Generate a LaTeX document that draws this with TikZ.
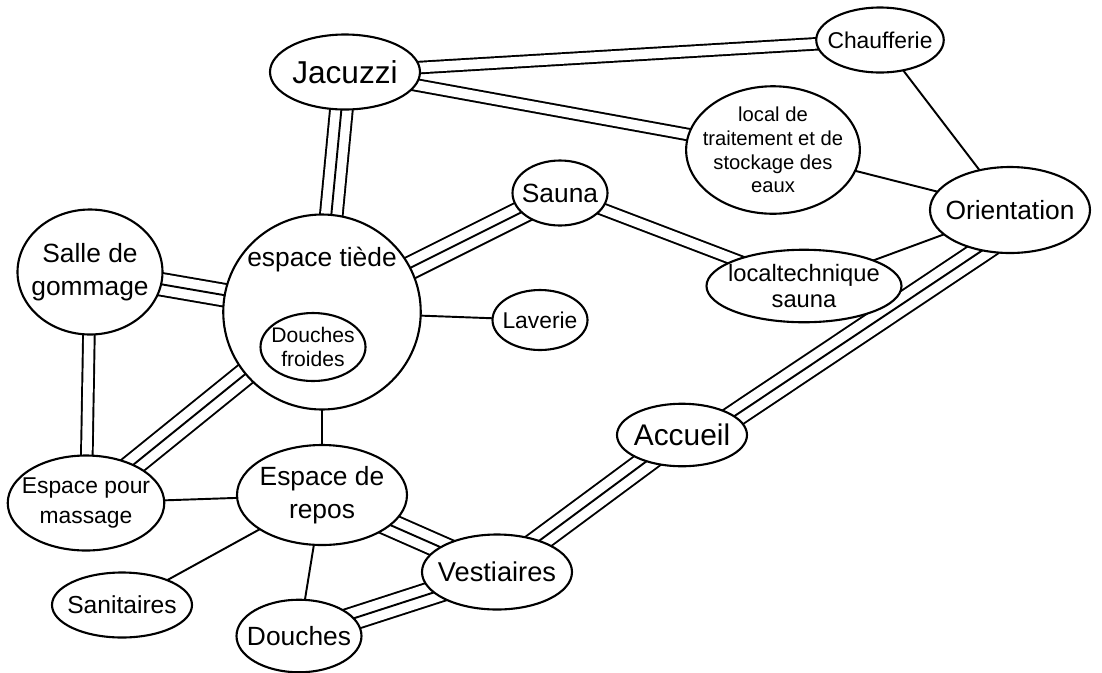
\documentclass[tikz,border=0pt]{standalone}
\usepackage{fontspec}
\setmainfont{Liberation Sans}
\usepackage{tikz}
\usetikzlibrary{shapes.geometric,positioning,backgrounds}
\tikzset{
  salle/.style={ellipse, draw=black, line width=1.2pt, fill=white, align=center, inner sep=-5pt, font=\fontsize{15}{19}\selectfont},
  petitesalle/.style={salle, font=\fontsize{12}{14}\selectfont},
  lien/.style={draw=black, line width=1.1pt},
  liendouble/.style={draw=black, line width=1.1pt, double=white, double distance=5.5pt},
  lientriple/.style={draw=black, line width=14pt, postaction={draw=white, line width=11.8pt}, postaction={draw=black, line width=1.1pt}}
}

\begin{document}
\begin{tikzpicture}[on grid]

\useasboundingbox (0,0) rectangle (22.04,-13.44);

\node[salle, minimum width=3.95cm, minimum height=3.9cm, text depth=2.2cm] (tiede) at (6.44,-6.24) {espace tiède};
\node[petitesalle, minimum width=2.1cm, minimum height=1.36cm, below left=0.7cm and 0.18cm of tiede] (froides) {Douches\\froides};
\node[salle, minimum width=3cm, minimum height=1.5cm, font=\fontsize{18}{20}\selectfont, above right=4.8cm and 0.46cm of tiede] (jacuzzi) {Jacuzzi};
\node[salle, minimum width=2.55cm, minimum height=1.3cm, font=\fontsize{13}{15}\selectfont, above right=0.64cm and 10.7cm of jacuzzi] (chauff) {Chaufferie};
\node[salle, minimum width=2.9cm, minimum height=2.5cm, above left=0.8cm and 4.64cm of tiede] (gommage) {Salle de\\gommage};
\node[salle, minimum width=1.9cm, minimum height=1.3cm, above right=2.38cm and 4.76cm of tiede] (sauna) {Sauna};
\node[petitesalle, minimum width=3.45cm, minimum height=2.55cm, font=\fontsize{11.5}{13.5}\selectfont, above right=0.86cm and 4.26cm of sauna] (traitement) {local de\\traitement et de\\stockage des\\eaux};
\node[salle, minimum width=1.9cm, minimum height=1.2cm, font=\fontsize{13}{15}\selectfont, below right=0.16cm and 4.36cm of tiede] (laverie) {Laverie};
\node[salle, minimum width=3.9cm, minimum height=1.45cm, font=\fontsize{13.5}{15}\selectfont, below right=1.86cm and 4.88cm of sauna] (loctech) {localtechnique\\sauna};
\node[salle, minimum width=3.2cm, minimum height=1.72cm, above right=1.52cm and 4.12cm of loctech] (orientation) {Orientation};
\node[salle, minimum width=3.4cm, minimum height=2cm, below=3.66cm of tiede] (repos) {Espace de\\repos};
\node[salle, minimum width=3.1cm, minimum height=1.9cm, font=\fontsize{13}{17}\selectfont, below left=0.16cm and 4.72cm of repos] (massage) {Espace pour\\massage};
\node[salle, minimum width=2.8cm, minimum height=1.3cm, font=\fontsize{14}{16}\selectfont, below left=2.2cm and 4cm of repos] (sanitaires) {Sanitaires};
\node[salle, minimum width=2.5cm, minimum height=1.45cm, below left=2.82cm and 0.46cm of repos] (douches) {Douches};
\node[salle, minimum width=3cm, minimum height=1.5cm, font=\fontsize{15.5}{18}\selectfont, below right=1.54cm and 3.5cm of repos] (vestiaires) {Vestiaires};
\node[salle, minimum width=2.6cm, minimum height=1.25cm, font=\fontsize{17}{19}\selectfont, above right=2.74cm and 3.7cm of vestiaires] (accueil) {Accueil};

\begin{scope}[on background layer]
\draw[liendouble] (jacuzzi.center) -- (chauff.center);
\draw[liendouble] (jacuzzi.center) -- (traitement.center);
\draw[lientriple] (jacuzzi.center) -- (tiede.center);
\draw[lien] (chauff.center) -- (orientation.center);
\draw[lien] (traitement.center) -- (orientation.center);
\draw[lien] (loctech.center) -- (orientation.center);
\draw[lientriple, shorten <=-8pt, shorten >=-8pt] (orientation.235) -- (accueil.20);
\draw[lientriple] (sauna.center) -- (tiede.center);
\draw[liendouble] (sauna.center) -- (loctech.center);
\draw[lien] (laverie.center) -- (tiede.center);
\draw[lientriple] (gommage.center) -- (tiede.center);
\draw[liendouble] (gommage.center) -- (massage.center);
\draw[lientriple] (tiede.center) -- (massage.center);
\draw[lien] (tiede.center) -- (repos.center);
\draw[lien] (massage.center) -- (repos.center);
\draw[lien] (repos.center) -- (sanitaires.center);
\draw[lien] (repos.center) -- (douches.center);
\draw[lientriple] (repos.center) -- (vestiaires.center);
\draw[lientriple] (vestiaires.center) -- (douches.center);
\draw[lientriple] (vestiaires.center) -- (accueil.center);
\end{scope}

\end{tikzpicture}
\end{document}
